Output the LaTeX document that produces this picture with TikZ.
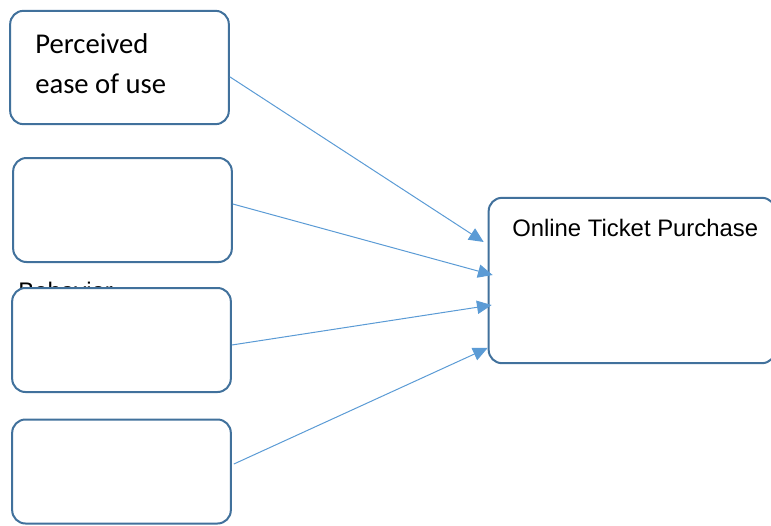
\documentclass[tikz,border=0pt]{standalone}
\usepackage{fontspec}
\setmainfont{Liberation Sans}
\newfontfamily\calibrifont{Carlito}
\usepackage{tikz}
\usetikzlibrary{arrows.meta,positioning}
\definecolor{bxBorder}{HTML}{41719C}
\definecolor{arBlue}{HTML}{5B9BD5}
\tikzset{
  box/.style={draw=bxBorder, fill=white, line width=1.5pt, rounded corners=10pt, minimum width=164pt, minimum height=78pt, inner sep=0pt},
  lbl/.style={anchor=base west, inner sep=0pt},
  link/.style={-{Triangle[length=11pt,width=10pt]}, arBlue, line width=0.75pt}
}
\begin{document}
\begin{tikzpicture}[x=0.75pt, y=-0.75pt]
  \useasboundingbox (0,0) rectangle (771,525);
  \node[box, minimum height=85pt] (pe) at (119.5,67.5) {};
  \node[lbl, font=\calibrifont\fontsize{21.5}{30}\selectfont, align=left] (pelabel) at (35,93) {Perceived\\ease of use};
  \node[box] (b2) at (122.5,210) {};
  \node[lbl, font=\fontsize{18}{22}\selectfont] (beh) at (18,299) {Behavior};
  \node[box] (b3) at (121.5,340) {};
  \node[box] (b4) at (121.5,471.5) {};
  \node[box, minimum width=215pt, minimum height=124pt] (otp) at (632,280.5) {};
  \node[lbl, font=\fontsize{17.9}{22}\selectfont] (otplabel) at (512,236) {Online Ticket Purchase};
  \draw[link] ([yshift=-7pt]pe.east) -- ([xshift=-3pt,yshift=28.9pt]otp.west);
  \draw[link] ([yshift=4.5pt]b2.east) -- ([xshift=3.75pt,yshift=4.1pt]otp.west);
  \draw[link] ([yshift=-3.75pt]b3.east) -- ([xshift=3pt,yshift=-18.4pt]otp.west);
  \draw[link] ([xshift=1.5pt,yshift=5.6pt]b4.east) -- ([yshift=-50.6pt]otp.west);
\end{tikzpicture}
\end{document}
